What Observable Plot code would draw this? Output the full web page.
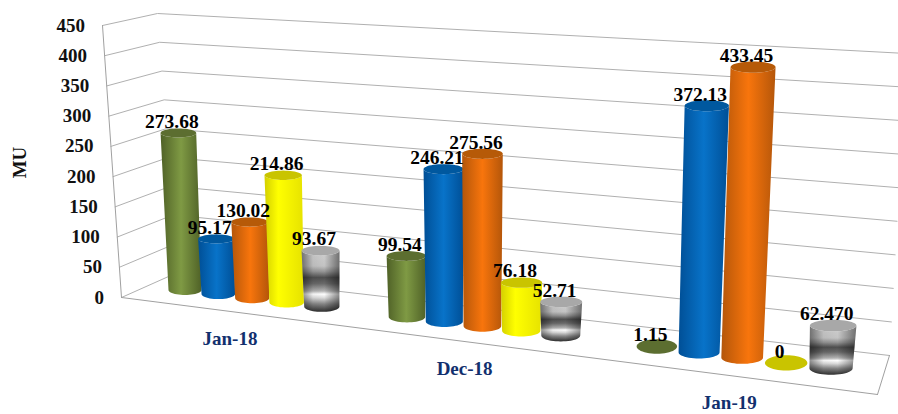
<!DOCTYPE html>
<html><head><meta charset="utf-8">
<script src="https://cdn.jsdelivr.net/npm/d3@7"></script>
<script src="https://cdn.jsdelivr.net/npm/@observablehq/plot@0.6"></script>
<style>html,body{margin:0;padding:0;background:#fff}svg{display:block}</style>
</head><body><div id="chart"></div>
<script>
const categories = ["Jan-18", "Dec-18", "Jan-19"];
const greenValues = [273.68, 99.54, 1.15];
const blueValues = [95.17, 246.21, 372.13];
const orangeValues = [130.02, 275.56, 433.45];
const yellowValues = [214.86, 76.18, 0];
const greyValues = [93.67, 52.71, 62.47];
const greyLabels = ["93.67", "52.71", "62.470"];
const yTicks = [0, 50, 100, 150, 200, 250, 300, 350, 400, 450];
const yLabel = "MU";

const series = [
  {id: "green", values: greenValues, cap: "#5c6e30", stops: [[0, "#4f6127"], [.5, "#7f9a44"], [1, "#4f6127"]]},
  {id: "blue", values: blueValues, cap: "#00589f", stops: [[0, "#004f96"], [.5, "#0873c9"], [1, "#004f96"]]},
  {id: "orange", values: orangeValues, cap: "#b65a08", stops: [[0, "#b4560a"], [.5, "#f8750c"], [1, "#b4560a"]]},
  {id: "yellow", values: yellowValues, cap: "#c9c400", stops: [[0, "#d4d000"], [.35, "#ffff00"], [1, "#e6e200"]]},
  {id: "grey", values: greyValues, cap: "#a8a8a8", stops: [[0, "#cfcfcf"], [.25, "#c4c4c4"], [.34, "#969696"], [.44, "#4f4f4f"], [.54, "#6a6a6a"], [.66, "#b4b4b4"], [.71, "#fff"], [.77, "#dcdcdc"], [.87, "#858585"], [1, "#2e2e2e"]]}
];

// Perspective of the 3D box, in view units
const wallFrontLeft = {base: [121, 297], top: [102, 25]};
const wallBackLeft = {base: [177, 272], top: [157, 13]};
const wallBackRight = {base: [889, 355], top: [906, 53]};
const floorFrontRight = [877, 394];
const maxValue = 450;
const groupPeriod = 6.35;
const slotX = u => 185 + 33 * u / (1 - 0.0088 * u);
const baseY = x => 290 + 0.1213 * (x - 185);
const unit = x => 0.585 + (x - 250) * 0.000173;
const lean = x => (x - 480) / 7000;
const radius = x => 16.5 + (x - 185) * 0.0078;
const lerp = (a, b, t) => [a[0] + (b[0] - a[0]) * t, a[1] + (b[1] - a[1]) * t];
const wallPoint = (corner, v) => lerp(corner.base, corner.top, v / maxValue);
const frontY = x => 297 + (x - 121) * (394 - 297) / (877 - 121);
const angles = d3.range(0, 25).map(i => i * Math.PI / 24);

function cylinder(g, s, value) {
  const xb = slotX(g * groupPeriod + s);
  const yb = baseY(xb);
  const h = value * unit(xb);
  const rb = radius(xb);
  return {xb, yb, xt: xb + lean(xb) * h, yt: yb - h, rb, rt: rb * (value > 5 ? 1.08 : 1), ry: rb * (value > 5 ? 0.27 : 0.36)};
}

const bars = categories.flatMap((c, g) => series.map((sr, s) => ({g, s, sr, label: sr.id === "grey" ? greyLabels[g] : String(sr.values[g]), value: sr.values[g], ...cylinder(g, s, sr.values[g])})));

const bodyRows = b => angles.map(a => ({
  x1: b.xt - b.rt * Math.cos(a), y1: b.yt + b.ry * Math.sin(a),
  x2: b.xb - b.rb * Math.cos(a), y2: b.yb + b.rb * 0.3 * Math.sin(a)
}));
const capRows = b => angles.map(a => ({
  x1: b.xt - b.rt * Math.cos(a), y1: b.yt - b.ry * Math.sin(a),
  x2: b.xt - b.rt * Math.cos(a), y2: b.yt + b.ry * Math.sin(a)
}));
const area = (rows, fill) => Plot.area(rows, {x1: "x1", y1: "y1", x2: "x2", y2: "y2", fill, stroke: "none"});

const barMarks = bars.flatMap(b => {
  const out = [];
  if (b.value > 5) {
    out.push(area(bodyRows(b), `url(#g-${b.sr.id})`));
    if (b.sr.id === "grey") out.push(area(bodyRows(b), "url(#g-shade)"));
  }
  out.push(area(capRows(b), b.sr.cap));
  return out;
});

const wallRows = yTicks.flatMap(v => [wallFrontLeft, wallBackLeft, wallBackRight].map(c => {
  const [x, y] = wallPoint(c, v);
  return {x, y, v};
}));
const edges = [
  [wallFrontLeft.base, wallFrontLeft.top],
  [wallFrontLeft.base, floorFrontRight],
  [floorFrontRight, wallBackRight.base]
].flatMap((e, i) => e.map(p => ({x: p[0], y: p[1], i})));

const tickRows = yTicks.map(v => {
  const [x, y] = wallPoint(wallFrontLeft, v);
  return {v, x: x - 17.5, y};
});
const catRows = categories.map((c, g) => {
  const x = 229.5 + 1.019 * (slotX(g * groupPeriod + 2) - slotX(2));
  return {c, x, y: frontY(x) + 27};
});

const font = "'Liberation Serif','Times New Roman',serif";
const chart = Plot.plot({
  width: 898, height: 414,
  marginTop: 0, marginRight: 0, marginBottom: 0, marginLeft: 0,
  x: {domain: [0, 898], range: [0, 898], axis: null},
  y: {domain: [0, 414], range: [0, 414], axis: null},
  style: {background: "#fff", fontFamily: font},
  marks: [
    Plot.line(wallRows, {x: "x", y: "y", z: "v", stroke: "#b0b0b0", strokeWidth: 1}),
    Plot.line(edges, {x: "x", y: "y", z: "i", stroke: "#a0a0a0", strokeWidth: 1}),
    ...barMarks,
    Plot.text(tickRows, {x: "x", y: "y", text: d => String(d.v), textAnchor: "end", fontSize: 19, fontWeight: "bold", fill: "#111", fontFamily: font}),
    Plot.text(bars, {x: "xt", y: "yt", text: "label", dx: -7, dy: -12, fontSize: 19.5, fontWeight: "bold", fill: "#000", fontFamily: font}),
    Plot.text(catRows, {x: "x", y: "y", text: "c", fontSize: 19, fontWeight: "bold", fill: "#12306e", fontFamily: font}),
    Plot.text([yLabel], {x: () => 19, y: () => 162, text: d => d, rotate: -90, fontSize: 19, fontWeight: "bold", fill: "#111", fontFamily: font})
  ]
});

const defs = d3.select(chart).insert("defs", ":first-child");
for (const sr of series) {
  const vertical = sr.id === "grey";
  const grad = defs.append("linearGradient").attr("id", `g-${sr.id}`)
    .attr("x1", 0).attr("y1", 0).attr("x2", vertical ? 0 : 1).attr("y2", vertical ? 1 : 0);
  for (const [o, c] of sr.stops) grad.append("stop").attr("offset", o).attr("stop-color", c);
}
const shade = defs.append("linearGradient").attr("id", "g-shade").attr("x1", 0).attr("y1", 0).attr("x2", 1).attr("y2", 0);
for (const [o, a] of [[0, .45], [.3, .05], [.6, 0], [1, .45]])
  shade.append("stop").attr("offset", o).attr("stop-color", "#000").attr("stop-opacity", a);

document.getElementById("chart").append(chart);
</script>
</body></html>
